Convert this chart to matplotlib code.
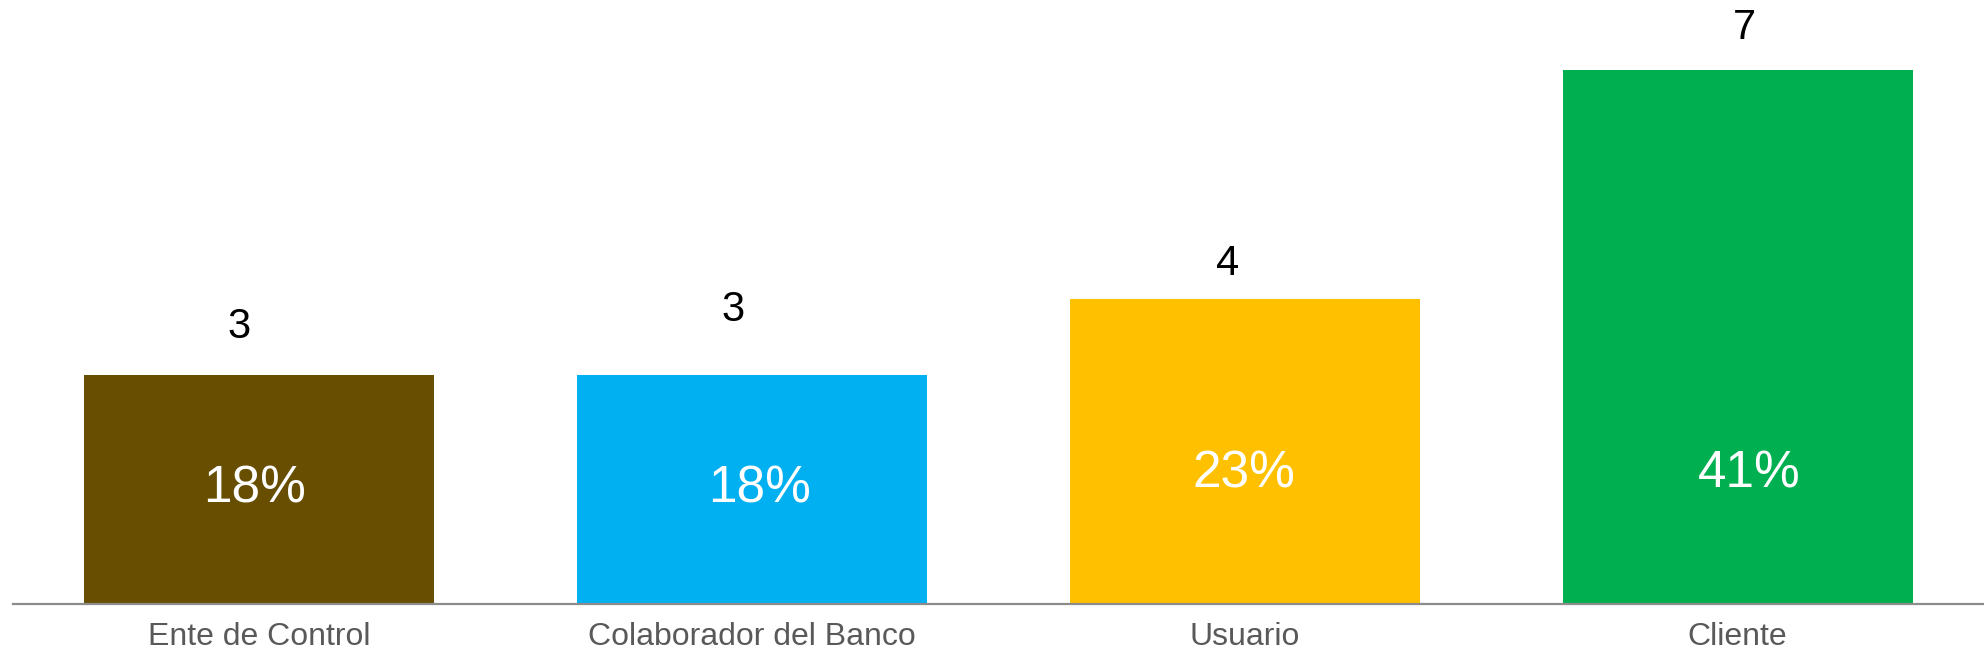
import matplotlib
matplotlib.use("Agg")
import matplotlib.pyplot as plt

plt.rcParams['font.family'] = ['Liberation Sans', 'DejaVu Sans']

# datos
categorias = ["Ente de Control", "Colaborador del Banco", "Usuario", "Cliente"]
valores = [3, 3, 4, 7]
porcentajes = ["18%", "18%", "23%", "41%"]
colores = ["#674E00", "#00B0F0", "#FFC000", "#00AF50"]

# desplazamientos de las etiquetas (puntos)
off_valor = [(-15, 27), (-13.7, 39), (-12.2, 17.3), (5, 22.3)]
off_pct = [(-3.6, 73.4), (5, 73.4), (-0.7, 84), (8.6, 84)]

fig = plt.figure(figsize=(19.84, 6.63), dpi=100)
ax = fig.add_axes([13 / 1984, 59 / 663, 1 - 13 / 1984, 1 - 59 / 663])

x = range(len(categorias))
ax.bar(x, valores, width=0.71, color=colores, zorder=2)

for i, v in enumerate(valores):
    ax.annotate(str(v), (i, v), xytext=off_valor[i], textcoords="offset points",
                ha="center", va="baseline", fontsize=30, color="black")
    ax.annotate(porcentajes[i], (i, 0), xytext=off_pct[i], textcoords="offset points",
                ha="center", va="baseline", fontsize=37, color="white")

ax.set_xlim(-0.5, 3.5)
ax.set_ylim(0, 7.92)
ax.set_xticks(list(x))
ax.set_xticklabels(categorias, fontsize=23, color="#595959")
ax.tick_params(axis="x", length=0, pad=13)
ax.set_yticks([])
for s in ["top", "right", "left"]:
    ax.spines[s].set_visible(False)
ax.spines["bottom"].set_color("#8C8C8C")
ax.spines["bottom"].set_linewidth(1.6)
ax.spines["bottom"].set_zorder(3)

fig.savefig("out.png", dpi=100)
